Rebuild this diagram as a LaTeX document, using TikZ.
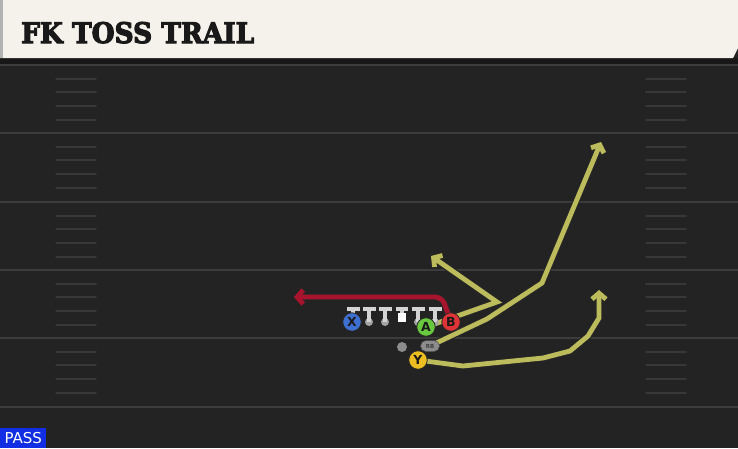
\documentclass[tikz,border=0pt]{standalone}
\usepackage{fontspec}
\setmainfont{DejaVu Sans}
\newfontfamily\titlefont{DejaVu Serif}[FakeBold=4]
\usetikzlibrary{positioning,arrows.meta,shapes.misc}

\pgfdeclarelayer{field}
\pgfdeclarelayer{routes}
\pgfsetlayers{field,routes,main}

\definecolor{fieldgray}{RGB}{35,35,35}
\definecolor{stripgray}{RGB}{24,24,24}
\definecolor{yardgray}{RGB}{60,60,60}
\definecolor{hashgray}{RGB}{56,56,56}
\definecolor{titlecream}{RGB}{245,242,235}
\definecolor{routeyellow}{RGB}{188,188,92}
\definecolor{routered}{RGB}{168,20,46}
\definecolor{xblue}{RGB}{62,112,210}
\definecolor{agreen}{RGB}{104,200,62}
\definecolor{bred}{RGB}{222,52,56}
\definecolor{yyellow}{RGB}{236,190,34}
\definecolor{passblue}{RGB}{18,46,228}
\definecolor{linegray}{RGB}{212,212,212}
\definecolor{dotgray}{RGB}{140,140,140}

\tikzset{
  player/.style={circle, draw=black!85, line width=0.8pt, minimum size=18.5pt,
    inner sep=0pt, font=\bfseries\fontsize{12.5}{12.5}\selectfont, text=black!90},
  route/.style={preaction={draw=black!85, line width=7pt}, draw=routeyellow,
    line width=4.8pt, -{Straight Barb[length=6pt,width=14pt]}},
  redroute/.style={preaction={draw=black!85, line width=7pt}, draw=routered,
    line width=4.8pt, rounded corners=7pt, -{Straight Barb[length=6pt,width=14pt]}},
  tbar/.style={draw=linegray, line width=4pt},
  tdot/.style={circle, fill=dotgray!80, minimum size=8pt, inner sep=0pt},
  yardline/.style={draw=yardgray, line width=2pt},
  hashmark/.style={draw=hashgray, line width=1.5pt, line cap=round}
}

\begin{document}
\begin{tikzpicture}[x=1pt, y=-1pt]
  \useasboundingbox (0,0) rectangle (738,448);

  % field
  \begin{pgfonlayer}{field}
    \fill[fieldgray] (0,0) rectangle (738,448);
    \fill[stripgray] (0,58) rectangle (738,65);
    \foreach \y in {65,133,202,270,338,407}{%
        \draw[yardline] (0,\y) -- (738,\y);
      }
    \foreach \y in {65,133,202,270,338}{%
        \foreach \d in {14,27,41,55}{%
            \draw[hashmark] (56,\y+\d) -- (96,\y+\d);
            \draw[hashmark] (646,\y+\d) -- (686,\y+\d);
          }
      }
    \fill[titlecream] (0,0) -- (738,0) -- (738,48) -- (733,58) -- (0,58) -- cycle;
    \fill[black!30] (0,0) rectangle (3,58);
  \end{pgfonlayer}

  % title and label
  \node[anchor=base west, inner sep=0pt, text=black!90] (title) at (21,43)
    {\resizebox{233pt}{21pt}{\titlefont\bfseries FK TOSS TRAIL}};
  \node[fill=passblue, text=white, anchor=south west, minimum width=46pt,
    minimum height=20pt, inner sep=0pt, font=\fontsize{15}{15}\selectfont] (pass) at (0,448) {PASS};

  % line
  \foreach \x [count=\i] in {353,369,385,418,435}{%
      \node[tdot] (g\i) at (\x,322) {};
      \draw[tbar] (\x-6.5,309) -- (\x+6.5,309) (\x,309) -- (g\i.center);
    }
  \node[fill=white, minimum size=8.5pt, inner sep=0pt] (c) at (402,317.5) {};
  \draw[tbar] (396,309) -- (408,309) (402,309) -- (c.north);

  % skill players
  \node[player, fill=xblue] (X) at (352,322) {X};
  \node[player, fill=agreen] (A) at (426,327) {A};
  \node[player, fill=bred] (B) at (451,322) {B};
  \node[player, fill=yyellow] (Y) at (418,360) {Y};
  \node[circle, fill=dotgray, minimum size=10pt, inner sep=0pt] (qb) at (402,347) {};
  \node[rounded rectangle, fill=dotgray, draw=black!70, line width=0.5pt,
    minimum width=19pt, minimum height=11pt, inner sep=0pt,
    font=\bfseries\fontsize{5.5}{5.5}\selectfont, text=black!75] (RB) at (430,346) {RB};

  % routes
  \begin{pgfonlayer}{routes}
    \draw[redroute] (B.center) -- (442,297) -- (294,297);
    \draw[route] (A.center) -- (497,302) -- (431,256);
    \draw[route] (RB.center) -- (487,319) -- (542,283) -- (601,142);
    \draw[route] (Y.center) -- (463,366) -- (543,358) -- (570,351)
      -- (588,336) -- (599,318) -- (599,290);
  \end{pgfonlayer}
\end{tikzpicture}
\end{document}
